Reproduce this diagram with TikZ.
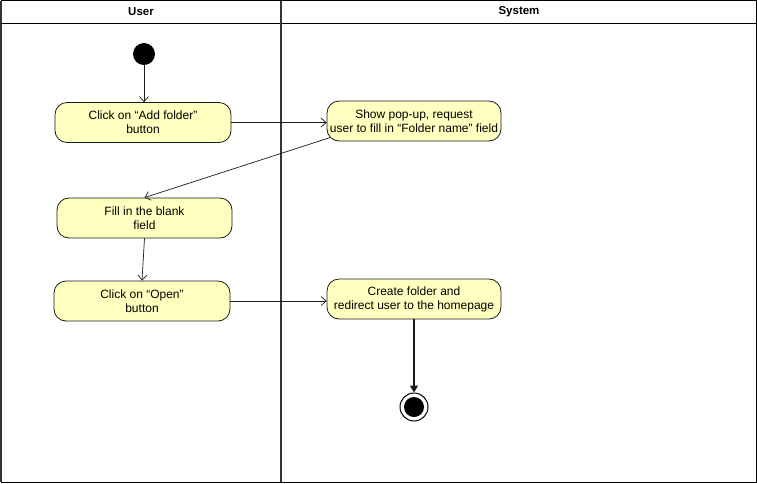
\documentclass[tikz,border=0pt]{standalone}
\usepackage{fontspec}
\setmainfont{Liberation Sans}
\usetikzlibrary{arrows.meta}
\definecolor{actfill}{HTML}{FFFFC0}
\definecolor{actdraw}{HTML}{1A1A1A}
\definecolor{lanegray}{HTML}{333333}

\begin{document}
\begin{tikzpicture}[x=1pt,y=-1pt,line width=0.8pt,
  action/.style={draw=actdraw, fill=actfill, rounded corners=12pt, minimum width=176pt,
    minimum height=40pt, align=center, inner sep=1pt, font=\fontsize{12}{14}\selectfont},
  flow/.style={draw=actdraw, line width=0.7pt, -{Straight Barb[length=5pt,width=9pt]}},
  lanehead/.style={font=\fontsize{11.5}{13}\selectfont\bfseries}]
  \useasboundingbox (0,0) rectangle (757,483);
  % swimlanes
  \draw[lanegray, line width=1.2pt] (1,0.7) -- (1,482.3);
  \draw[black, line width=1.2pt] (0.7,0.7) -- (756.3,0.7) -- (756.3,482.3) -- (0.7,482.3);
  \draw[black, line width=1pt] (0.7,23) -- (756.3,23);
  \draw[lanegray, line width=1.3pt] (281,0.7) -- (281,482.3);
  \node[lanehead] (user) at (141,12) {User};
  \node[lanehead] (system) at (519,12) {System};

  % start and end
  \node[circle, fill=black, minimum size=22pt, inner sep=0pt] (start) at (144,54) {};
  \node[circle, draw=black, line width=1pt, fill=white, minimum size=28pt, inner sep=0pt] (stop) at (414,407) {};
  \node[circle, fill=black, minimum size=20pt, inner sep=0pt] (stopdot) at (stop) {};

  % actions
  \node[action] (addfolder) at (143,122.5) {Click on “Add folder”\\button};
  \node[action, minimum width=174pt] (popup) at (414,121) {Show pop-up, request\\user to fill in “Folder name” field};
  \node[action, minimum width=175pt] (fillin) at (144.5,218) {Fill in the blank\\field};
  \node[action] (open) at (142,301) {Click on “Open”\\button};
  \node[action, minimum width=174pt] (create) at (414,299) {Create folder and\\redirect user to the homepage};

  % flows
  \draw[flow] (start) -- (start |- addfolder.north);
  \draw[flow] (addfolder.east) -- (addfolder.east -| popup.west);
  \draw[flow] ([xshift=4pt,yshift=4pt]popup.south west) -- (fillin.north);
  \draw[flow] (fillin.south) -- (open.north);
  \draw[flow] (open.east) -- (open.east -| create.west);
  \draw[draw=actdraw, line width=1.6pt, -{Triangle[length=7pt,width=8pt]}] (create.south) -- (stop.north);
\end{tikzpicture}
\end{document}
